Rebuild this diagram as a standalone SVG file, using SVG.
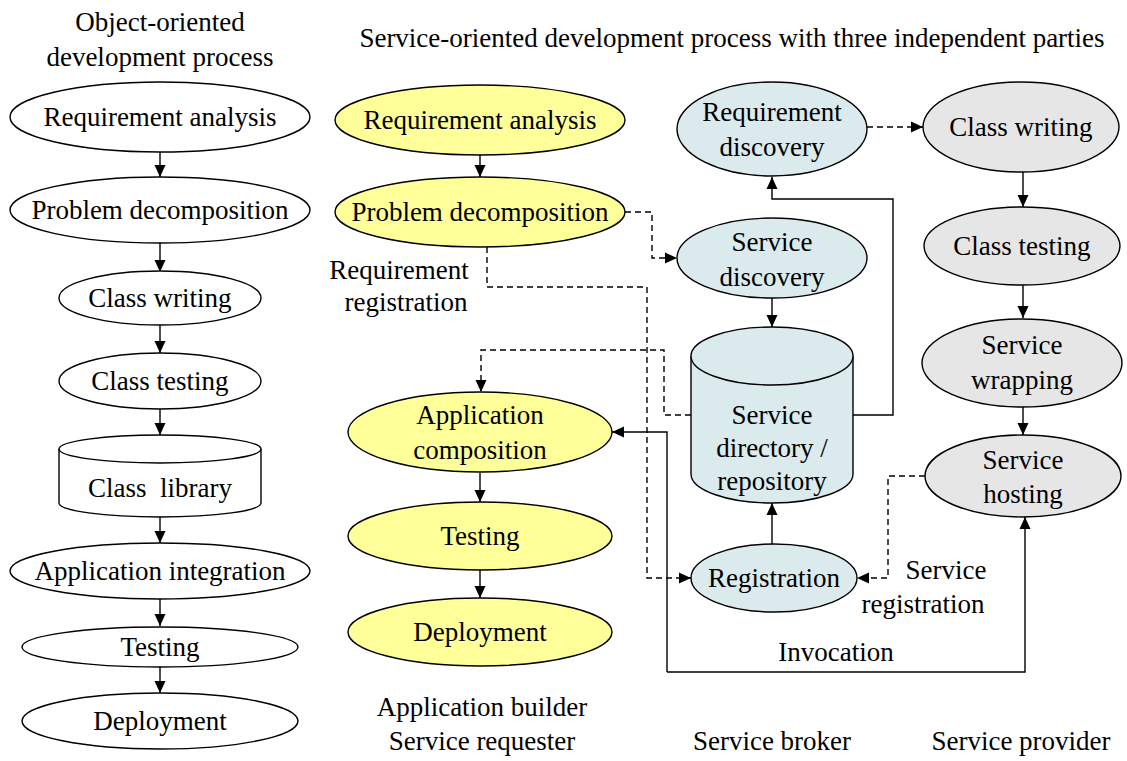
<svg xmlns="http://www.w3.org/2000/svg" width="1127" height="761" viewBox="0 0 1127 761">
<style>
text{font-family:"Liberation Serif","Times New Roman",serif;font-size:27px;fill:#000;text-anchor:middle}
.n{stroke:#000;stroke-width:1.4}
.w{fill:#fff}.y{fill:#FFFF99}.b{fill:#DAEAED}.g{fill:#E6E6E6}
.c{fill:none;stroke:#000;stroke-width:1.4}
.d{stroke-dasharray:6 4}
</style>
<defs>
<marker id="a" markerUnits="userSpaceOnUse" markerWidth="12" markerHeight="12" refX="12" refY="6" orient="auto">
<path d="M0,0.5 L12,6 L0,11.5 z" fill="#000"/>
</marker>
</defs>
<rect width="1127" height="761" fill="#fff"/>
<g id="titles">
<text x="160" y="31">Object-oriented</text>
<text x="160" y="66">development process</text>
<text x="732" y="47">Service-oriented development process with three independent parties</text>
<text x="399" y="279">Requirement</text>
<text x="406" y="311">registration</text>
<text x="946" y="579">Service</text>
<text x="923" y="613">registration</text>
<text x="836" y="661">Invocation</text>
<text x="482" y="716">Application builder</text>
<text x="482" y="750">Service requester</text>
<text x="772" y="750">Service broker</text>
<text x="1021" y="750">Service provider</text>
</g>
<g id="connectors">
<path class="c" marker-end="url(#a)" d="M160,152V177"/>
<path class="c" marker-end="url(#a)" d="M160,243V272"/>
<path class="c" marker-end="url(#a)" d="M160,325V353"/>
<path class="c" marker-end="url(#a)" d="M160,409V435"/>
<path class="c" marker-end="url(#a)" d="M160,517V543"/>
<path class="c" marker-end="url(#a)" d="M160,598V626"/>
<path class="c" marker-end="url(#a)" d="M160,667V693"/>
<path class="c" marker-end="url(#a)" d="M480,155V177"/>
<path class="c" marker-end="url(#a)" d="M480,473V502"/>
<path class="c" marker-end="url(#a)" d="M480,570V598"/>
<path class="c d" marker-end="url(#a)" d="M625,212H652V258H677"/>
<path class="c d" marker-end="url(#a)" d="M487,247V287H647V578H691"/>
<path class="c d" marker-end="url(#a)" d="M691,415H664V350H481V392"/>
<path class="c" marker-end="url(#a)" d="M667,672V432H612"/>
<path class="c" marker-end="url(#a)" d="M667,672H1025V517"/>
<path class="c" marker-end="url(#a)" d="M772,298V327"/>
<path class="c" marker-end="url(#a)" d="M772,545V503"/>
<path class="c" marker-end="url(#a)" d="M853,415H893V199H772V177"/>
<path class="c d" marker-end="url(#a)" d="M867,127H923"/>
<path class="c d" marker-end="url(#a)" d="M925,476H888V578H857"/>
<path class="c" marker-end="url(#a)" d="M1023,172V207"/>
<path class="c" marker-end="url(#a)" d="M1023,285V318"/>
<path class="c" marker-end="url(#a)" d="M1023,407V435"/>
</g>
<g id="oo-req"><ellipse class="n w" cx="160" cy="117" rx="150" ry="35"/><text x="160" y="126">Requirement analysis</text></g>
<g id="oo-prob"><ellipse class="n w" cx="160" cy="210" rx="150" ry="33"/><text x="160" y="219">Problem decomposition</text></g>
<g id="oo-cw"><ellipse class="n w" cx="160" cy="298" rx="101" ry="27"/><text x="160" y="307">Class writing</text></g>
<g id="oo-ct"><ellipse class="n w" cx="160" cy="381" rx="101" ry="28"/><text x="160" y="390">Class testing</text></g>
<g id="oo-lib"><path class="n w" d="M59,449V503A101,14 0 0 0 261,503V449"/><ellipse class="n w" cx="160" cy="449" rx="101" ry="14"/><text x="160" y="497" xml:space="preserve">Class  library</text></g>
<g id="oo-ai"><ellipse class="n w" cx="160" cy="571" rx="150" ry="28"/><text x="160" y="580">Application integration</text></g>
<g id="oo-test"><ellipse class="n w" cx="160" cy="647" rx="138" ry="20"/><text x="160" y="656">Testing</text></g>
<g id="oo-dep"><ellipse class="n w" cx="160" cy="721" rx="138" ry="28"/><text x="160" y="730">Deployment</text></g>
<g id="ab-req"><ellipse class="n y" cx="480" cy="120" rx="145" ry="35"/><text x="480" y="129">Requirement analysis</text></g>
<g id="ab-prob"><ellipse class="n y" cx="480" cy="212" rx="145" ry="35"/><text x="480" y="221">Problem decomposition</text></g>
<g id="ab-comp"><ellipse class="n y" cx="480" cy="432" rx="132" ry="40"/><text x="480" y="424">Application</text><text x="480" y="459">composition</text></g>
<g id="ab-test"><ellipse class="n y" cx="480" cy="536" rx="132" ry="34"/><text x="480" y="545">Testing</text></g>
<g id="ab-dep"><ellipse class="n y" cx="480" cy="632" rx="132" ry="34"/><text x="480" y="641">Deployment</text></g>
<g id="sb-reqd"><ellipse class="n b" cx="772" cy="129" rx="95" ry="47"/><text x="772" y="121">Requirement</text><text x="772" y="156">discovery</text></g>
<g id="sb-sd"><ellipse class="n b" cx="772" cy="258" rx="95" ry="40"/><text x="772" y="251">Service</text><text x="772" y="286">discovery</text></g>
<g id="sb-repo"><path class="n b" d="M691,356V474A81,29 0 0 0 853,474V356"/><ellipse class="n b" cx="772" cy="356" rx="81" ry="29"/><text x="772" y="424">Service</text><text x="772" y="457">directory /</text><text x="772" y="490">repository</text></g>
<g id="sb-reg"><ellipse class="n b" cx="774" cy="578" rx="83" ry="34"/><text x="774" y="587">Registration</text></g>
<g id="sp-cw"><ellipse class="n g" cx="1021" cy="127" rx="98" ry="45"/><text x="1021" y="136">Class writing</text></g>
<g id="sp-ct"><ellipse class="n g" cx="1022" cy="246" rx="98" ry="39"/><text x="1022" y="255">Class testing</text></g>
<g id="sp-wrap"><ellipse class="n g" cx="1022" cy="363" rx="100" ry="44"/><text x="1022" y="354">Service</text><text x="1022" y="389">wrapping</text></g>
<g id="sp-host"><ellipse class="n g" cx="1023" cy="476" rx="98" ry="41"/><text x="1023" y="469">Service</text><text x="1023" y="503">hosting</text></g>
</svg>
